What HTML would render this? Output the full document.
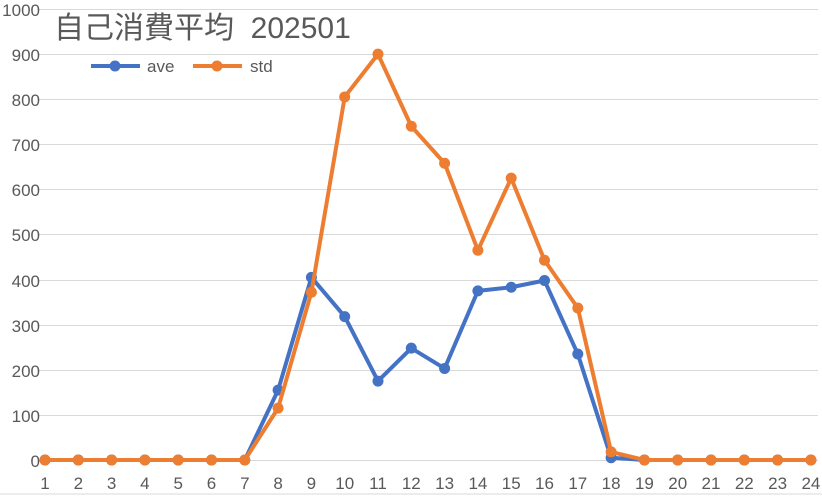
<!DOCTYPE html>
<html><head><meta charset="utf-8"><style>
body{margin:0;background:#fff}
svg text{font-family:"Liberation Sans Narrow","Liberation Sans","Noto Sans CJK JP",sans-serif;fill:#595959}
</style></head><body>
<svg width="822" height="496" viewBox="0 0 822 496" xmlns="http://www.w3.org/2000/svg">
<rect width="822" height="496" fill="#fff"/>
<g stroke="#d9d9d9" stroke-width="1">
<line x1="38" x2="818" y1="9.5" y2="9.5"/><line x1="38" x2="818" y1="54.5" y2="54.5"/>
<line x1="38" x2="818" y1="99.5" y2="99.5"/><line x1="38" x2="818" y1="144.5" y2="144.5"/>
<line x1="38" x2="818" y1="189.5" y2="189.5"/><line x1="38" x2="818" y1="234.5" y2="234.5"/>
<line x1="38" x2="818" y1="280.5" y2="280.5"/><line x1="38" x2="818" y1="325.5" y2="325.5"/>
<line x1="38" x2="818" y1="370.5" y2="370.5"/><line x1="38" x2="818" y1="415.5" y2="415.5"/>
<line x1="38" x2="818" y1="460.5" y2="460.5"/>
</g>
<g font-size="17" text-anchor="end">
<text x="40" y="16">1000</text><text x="40" y="61">900</text><text x="40" y="106">800</text>
<text x="40" y="151">700</text><text x="40" y="196">600</text><text x="40" y="241">500</text>
<text x="40" y="287">400</text><text x="40" y="332">300</text><text x="40" y="377">200</text>
<text x="40" y="422">100</text><text x="40" y="467">0</text>
</g>
<g font-size="17" text-anchor="middle" id="xl"></g>
<text x="54" y="38" font-size="30" style="fill:#595959;white-space:pre">自己消費平均  202501</text>
<line x1="91" y1="66" x2="140" y2="66" stroke="#4472c4" stroke-width="4"/><circle cx="115" cy="66" r="5.5" fill="#4472c4"/>
<text x="147" y="72" font-size="17">ave</text>
<line x1="193" y1="66" x2="242" y2="66" stroke="#ed7d31" stroke-width="4"/><circle cx="217" cy="66" r="5.5" fill="#ed7d31"/>
<text x="250" y="72" font-size="17">std</text>
<g id="s"></g>
<line x1="0" y1="494" x2="822" y2="494" stroke="#d9d9d9"/>
<script>
var ave=[0,0,0,0,0,0,0,155,405,318,175,248,203,375,383,398,235,5,0,0,0,0,0,0];
var std=[0,0,0,0,0,0,0,115,372,805,900,740,658,465,625,443,337,18,0,0,0,0,0,0];
var ns="http://www.w3.org/2000/svg",g=document.getElementById('s'),xl=document.getElementById('xl');
function X(i){return 45+i*33.3}function Y(v){return 460-v*0.451}
for(var i=0;i<24;i++){var t=document.createElementNS(ns,'text');t.setAttribute('x',X(i));t.setAttribute('y',489);t.textContent=i+1;xl.appendChild(t);}
function draw(d,c){var p=d.map(function(v,i){return X(i)+','+Y(v)}).join(' ');
var pl=document.createElementNS(ns,'polyline');pl.setAttribute('points',p);pl.setAttribute('fill','none');pl.setAttribute('stroke',c);pl.setAttribute('stroke-width','4');pl.setAttribute('stroke-linejoin','round');g.appendChild(pl);
d.forEach(function(v,i){var ci=document.createElementNS(ns,'circle');ci.setAttribute('cx',X(i));ci.setAttribute('cy',Y(v));ci.setAttribute('r','5.5');ci.setAttribute('fill',c);g.appendChild(ci);});}
draw(ave,'#4472c4');draw(std,'#ed7d31');
</script>
</svg>
</body></html>
